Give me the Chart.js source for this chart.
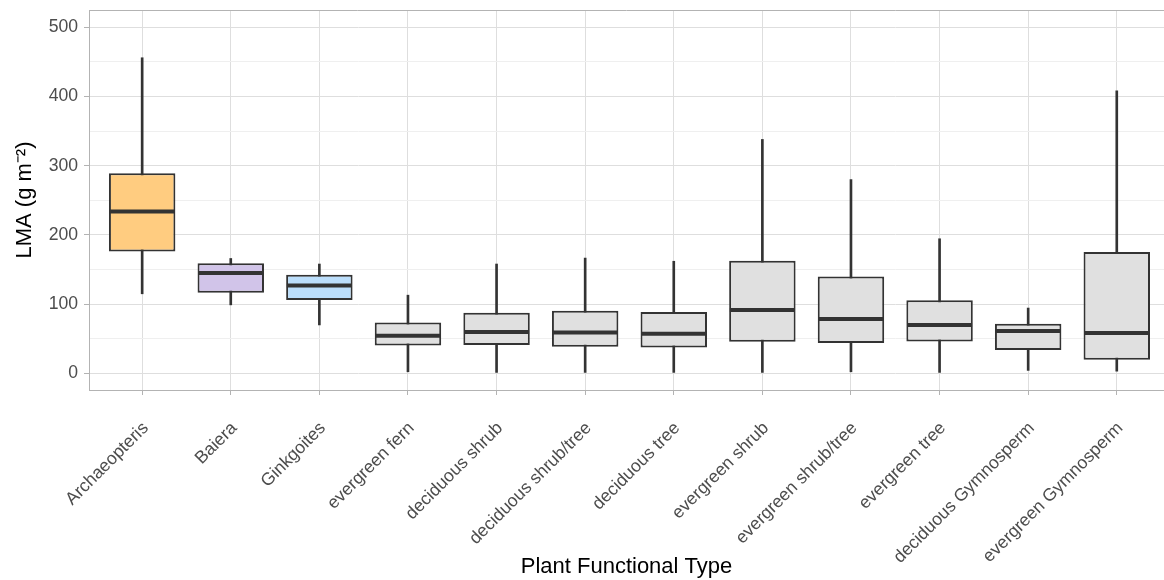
<!DOCTYPE html>
<html>
<head>
<meta charset="utf-8">
<script src="https://cdn.jsdelivr.net/npm/chart.js@4/dist/chart.umd.min.js"></script>
<style>
  html, body { margin: 0; padding: 0; background: #ffffff; overflow: hidden; }
  #wrap { width: 1164px; height: 580px; position: relative; }
</style>
</head>
<body>
<div id="wrap"><canvas id="c" width="1164" height="580"></canvas></div>
<script>
const categories = ["Archaeopteris", "Baiera", "Ginkgoites", "evergreen fern", "deciduous shrub",
  "deciduous shrub/tree", "deciduous tree", "evergreen shrub", "evergreen shrub/tree",
  "evergreen tree", "deciduous Gymnosperm", "evergreen Gymnosperm"];
const whiskerLow  = [115,  99,  70, 2.3, 1.4, 1.4, 1.4, 1.4, 2.3, 1.4, 4.3, 3.3];
const q1          = [176, 116.5, 106, 40.4, 41, 38.4, 37.5, 45.7, 43.8, 46.2, 33.7, 19.7];
const median      = [234, 145, 127, 54.3, 59.7, 59.2, 57.2, 91.5, 78.5, 69.8, 61.1, 58.2];
const q3          = [289, 159, 142.5, 73.7, 87.6, 90.5, 88.6, 162.7, 140, 105.5, 71.7, 175.3];
const whiskerHigh = [456, 166, 158, 113, 158, 166.6, 162, 338, 280, 194.5, 94.4, 408.4];
const boxColors   = ["#FFCC80", "#D1C4E9", "#BBDEFB", "#E0E0E0", "#E0E0E0", "#E0E0E0",
  "#E0E0E0", "#E0E0E0", "#E0E0E0", "#E0E0E0", "#E0E0E0", "#E0E0E0"];
const yTicks = [0, 50, 100, 150, 200, 250, 300, 350, 400, 450, 500];

const FONT = "'Liberation Sans', Arial, sans-serif";

const panelBorder = {
  id: 'panelBorder',
  afterDraw(chart) {
    const {ctx, chartArea: a} = chart;
    ctx.save();
    ctx.strokeStyle = '#B3B3B3';
    ctx.lineWidth = 1;
    ctx.beginPath();
    ctx.moveTo(a.left, a.top + 0.5);
    ctx.lineTo(a.right, a.top + 0.5);
    ctx.stroke();
    ctx.restore();
  }
};

new Chart(document.getElementById('c'), {
  data: {
    datasets: [
      {
        type: 'bar',
        label: 'whisker',
        data: categories.map((c, i) => ({x: i, y: [whiskerLow[i], whiskerHigh[i]]})),
        backgroundColor: '#333333',
        borderWidth: 0,
        barThickness: 2,
        grouped: false,
        order: 2
      },
      {
        type: 'bar',
        label: 'box',
        data: categories.map((c, i) => ({x: i, y: [q1[i], q3[i]]})),
        backgroundColor: boxColors,
        borderColor: '#333333',
        borderWidth: 2,
        borderSkipped: false,
        barPercentage: 0.75,
        categoryPercentage: 1,
        grouped: false,
        order: 1
      },
      {
        type: 'scatter',
        label: 'median',
        data: categories.map((c, i) => ({x: i, y: median[i]})),
        showLine: false,
        pointStyle: 'line',
        pointRadius: 32.5,
        pointHoverRadius: 32.5,
        pointBorderWidth: 4,
        pointHoverBorderWidth: 4,
        pointBorderColor: '#333333',
        pointBackgroundColor: '#333333',
        order: 0
      }
    ]
  },
  options: {
    responsive: false,
    animation: false,
    events: [],
    layout: { autoPadding: false, padding: { left: 0, right: 0, top: 10, bottom: 0 } },
    plugins: { legend: { display: false }, tooltip: { enabled: false } },
    scales: {
      x: {
        type: 'linear',
        offset: false,
        min: -0.6,
        max: 11.533,
        afterBuildTicks(scale) { scale.ticks = categories.map((c, i) => ({value: i})); },
        afterFit(scale) {
          scale.height = 190;
          scale.paddingLeft = 0; scale.paddingRight = 0;
        },
        ticks: {
          autoSkip: false,
          maxRotation: 45,
          minRotation: 45,
          color: '#4D4D4D',
          font: { family: FONT, size: 17.6 },
          padding: 23,
          labelOffset: 3.5,
          callback: (v) => categories[v]
        },
        grid: { offset: false, color: '#DEDEDE', lineWidth: 1, tickColor: '#B3B3B3', tickLength: 5 },
        border: { color: '#B3B3B3', width: 1 },
        title: {
          display: true,
          text: 'Plant Functional Type',
          color: '#000000',
          font: { family: FONT, size: 22 },
          padding: { top: 0, bottom: 0 }
        }
      },
      y: {
        type: 'linear',
        min: -24,
        max: 525,
        afterBuildTicks(scale) { scale.ticks = yTicks.map(v => ({value: v})); },
        afterFit(scale) {
          scale.width = 89;
          scale.paddingTop = 0; scale.paddingBottom = 0;
        },
        ticks: {
          color: '#4D4D4D',
          font: { family: FONT, size: 17.6 },
          padding: 6,
          callback: (v) => (v % 100 === 0 ? String(v) : '')
        },
        grid: {
          color: (ctx) => (ctx.tick && ctx.tick.value % 100 === 0 ? '#DEDEDE' : '#EFEFEF'),
          lineWidth: 1,
          tickColor: (ctx) => (ctx.tick && ctx.tick.value % 100 === 0 ? '#B3B3B3' : 'rgba(0,0,0,0)'),
          tickLength: 5
        },
        border: { color: '#B3B3B3', width: 1 },
        title: {
          display: true,
          text: 'LMA (g m⁻²)',
          color: '#000000',
          font: { family: FONT, size: 22 },
          padding: { top: 12, bottom: 0 }
        }
      }
    }
  },
  plugins: [panelBorder]
});
</script>
</body>
</html>
